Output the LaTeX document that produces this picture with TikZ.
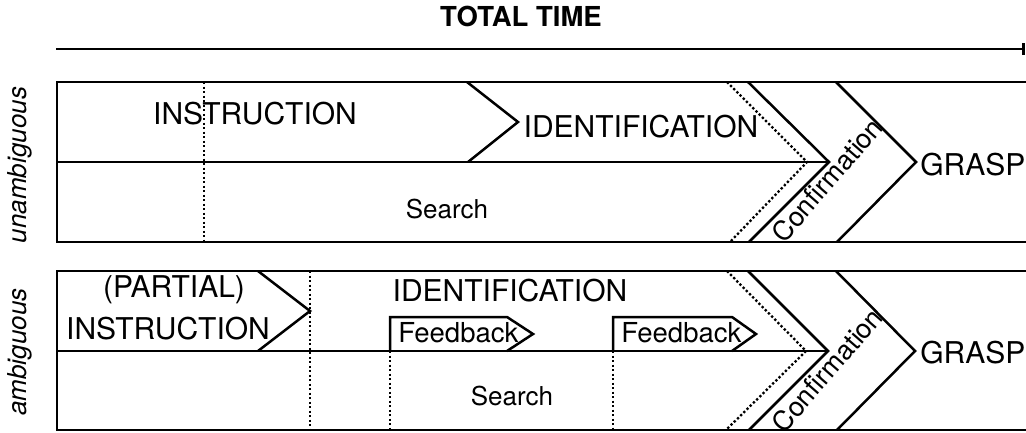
\documentclass[tikz,border=0pt]{standalone}
\usepackage{fontspec}
\setmainfont{TeX Gyre Heros}
\usetikzlibrary{arrows.meta}

\begin{document}
\begin{tikzpicture}[x=1pt, y=-1pt, line width=2.5pt,
  every node/.style={inner sep=0pt},
  big/.style={font=\fontsize{30}{36}\selectfont},
  small/.style={font=\fontsize{26}{30}\selectfont},
  side/.style={font=\fontsize{26}{31}\selectfont\itshape, rotate=90},
  dots/.style={line width=2.3pt, dash pattern=on 2.3pt off 2.2pt}]
\useasboundingbox (0,0) rectangle (1026,432);
% time axis
\node[font=\fontsize{27.5}{32}\selectfont\bfseries, anchor=base] (total) at (521,26.5) {TOTAL TIME};
\draw[line width=2.7pt, -{Bar[width=12pt]}] (56,49) -- (1025,49);

% upper panel
\draw (1026,82) -- (57,82) -- (57,242) -- (1026,242);
\draw (57,162) -- (829,162);
\draw[dots] (204,82) -- (204,242);
\draw (467,82) -- (518,122) -- (468,162);
\draw[dots] (727,82) -- (807,162) -- (730,242);
\draw (748,82) -- (829,162) -- (749,242);
\draw (836,82) -- (916,162) -- (837,242);
\node[side] (unamb) at (20,165) {unambiguous};
\node[big, anchor=base] (instr) at (255,124) {INSTRUCTION};
\node[big, anchor=base] (ident) at (641,137) {IDENTIFICATION};
\node[small, anchor=base] (search) at (447,218) {Search};
\node[small, rotate=49, font=\fontsize{27}{31}\selectfont] (confirm) at (827,180) {Confirmation};
\node[big, anchor=base west] (grasp) at (919,175) {GRASP};

% lower panel
\draw (1026,271) -- (57,271) -- (57,430) -- (1026,430);
\draw (57,351) -- (828,351);
\draw (258,271) -- (310,311) -- (258,351);
\draw[dots] (310,271) -- (310,430);
% feedback boxes
\draw (390,351) -- (390,317) -- (507,317) -- (533,334) -- (507,351);
\draw (613,351) -- (613,317) -- (732,317) -- (756,334) -- (732,351);
\draw[dots] (390,351) -- (390,430);
\draw[dots] (613,351) -- (613,430);
\draw[dots] (727,271) -- (806,351) -- (726,430);
\draw (748,271) -- (828,351) -- (749,430);
\draw (836,271) -- (915,351) -- (837,430);
\node[side] (amb) at (20,352) {ambiguous};
\node[big, anchor=base] (partial) at (174,297) {(PARTIAL)};
\node[big, anchor=base] (instrb) at (168,339) {INSTRUCTION};
\node[big, anchor=base] (identb) at (510,301) {IDENTIFICATION};
\node[small, anchor=base west, font=\fontsize{27.5}{32}\selectfont] (fbone) at (397,342) {Feedback};
\node[small, anchor=base west, font=\fontsize{27.5}{32}\selectfont] (fbtwo) at (620,342) {Feedback};
\node[small, anchor=base] (searchb) at (512,405) {Search};
\node[small, rotate=49, font=\fontsize{27}{31}\selectfont] (confirmb) at (827,370) {Confirmation};
\node[big, anchor=base west] (graspb) at (919,363) {GRASP};
\end{tikzpicture}
\end{document}
